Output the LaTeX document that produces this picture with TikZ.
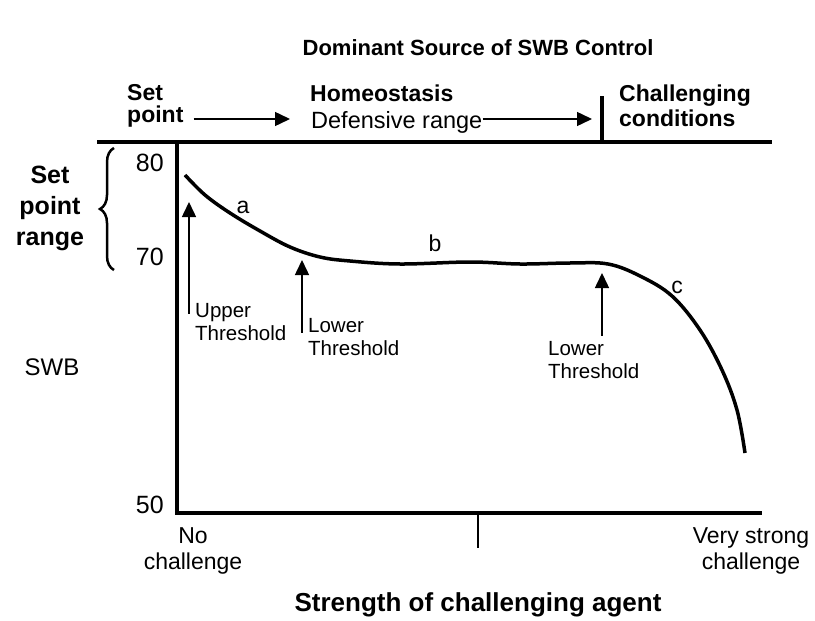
\documentclass[tikz,border=0pt]{standalone}
\usepackage{fontspec}
\setmainfont{Liberation Sans}
\usetikzlibrary{arrows.meta,decorations.pathreplacing}

\begin{document}
\begin{tikzpicture}[x=1pt,y=-1pt,
  txt/.style={inner sep=0pt,align=center,font=\fontsize{23}{26}\selectfont},
  head/.style={inner sep=0pt,align=left,font=\fontsize{23}{25}\selectfont\bfseries},
  thr/.style={inner sep=0pt,align=left,font=\fontsize{20.5}{23}\selectfont},
  pointer/.style={line width=1.5pt,-{Triangle[length=15pt,width=14pt]}},
  axis/.style={line width=4pt}]
\useasboundingbox (0,0) rectangle (815,621);

% headings
\node[head,anchor=base,font=\fontsize{22}{24}\selectfont\bfseries] (title) at (478,56) {Dominant Source of SWB Control};
\node[head,anchor=base west] (set) at (127,100) {Set};
\node[head,anchor=base west] (point) at (127,122) {point};
\node[head,anchor=base west] (homeo) at (310,101) {Homeostasis};
\node[txt,anchor=base west,font=\fontsize{23.5}{26}\selectfont] (defrange) at (311,128) {Defensive range};
\node[head,anchor=base west] (chall) at (619,126) {Challenging\\conditions};

\coordinate (septop) at (602,96);
\coordinate (sepbot) at (602,142);
\coordinate (topl) at (97,142);
\coordinate (topr) at (772,142);
\coordinate (yend) at (177,142);
\coordinate (origin) at (177,513);
\coordinate (xend) at (762,513);
\coordinate (mid) at (478,513);

\draw[axis] (topl) -- (topr);
\draw[axis] (septop) -- (sepbot);
\draw[axis] (yend) -- (origin) -- (xend);
\draw[line width=2pt] (mid) -- ++(0,35);

\draw[pointer] ([xshift=10pt,yshift=3pt]point.base east) -- ([xshift=-21pt,yshift=3pt]point.base east -| defrange.west);
\draw[pointer] ([yshift=9pt]defrange.base east) -- ([xshift=-10pt,yshift=9pt]defrange.base east -| septop);

% y axis
\node[txt,font=\fontsize{25}{27}\selectfont,anchor=east] (v80) at (164,163) {80};
\node[txt,font=\fontsize{25}{27}\selectfont,anchor=east] (v70) at (164,257) {70};
\node[txt,font=\fontsize{25}{27}\selectfont,anchor=east] (v50) at (164,505) {50};
\node[txt,font=\fontsize{24}{26}\selectfont] (swb) at (52,367) {SWB};
\node[head,align=center,font=\fontsize{25}{31}\selectfont\bfseries] (spr) at (50,208) {Set\\point\\range};
\draw[line width=2.5pt,decorate,decoration={brace,amplitude=14pt}] (114,270) -- (114,148);

% curve
\draw[line width=3.5pt] plot[smooth,tension=0.6] coordinates {(185,175) (205,195) (230,213) (260,231) (290,247) (320,257) (350,261) (400,264) (470,262) (520,264) (570,263) (608,264) (640,276) (672,296) (700,330) (722,370) (737,410) (745,453)};
\node[txt] (la) at (243,207) {a};
\node[txt] (lb) at (435,243) {b};
\node[txt] (lc) at (677,287) {c};

% thresholds
\node[thr,anchor=base west] (upper) at (195,340) {Upper\\Threshold};
\node[thr,anchor=base west] (lower) at (308,355) {Lower\\Threshold};
\node[thr,anchor=base west] (lowerc) at (548,378) {Lower\\Threshold};
\coordinate (tipu) at (189,202);
\coordinate (tipl) at (302,260);
\coordinate (tipc) at (602,273);
\draw[pointer] ([shift={(-6,11)}]upper.north west) -- (tipu);
\draw[pointer] ([shift={(-6,15)}]lower.north west) -- (tipl);
\draw[pointer] ([yshift=5pt]lowerc.north -| tipc) -- (tipc);

% x axis
\node[txt,anchor=base] (noch) at (193,569) {No\\challenge};
\node[txt,anchor=base] (strongch) at (751,569) {Very strong\\challenge};
\node[head,anchor=base,font=\fontsize{26}{28}\selectfont\bfseries] (xlabel) at (478,611) {Strength of challenging agent};
\end{tikzpicture}
\end{document}
